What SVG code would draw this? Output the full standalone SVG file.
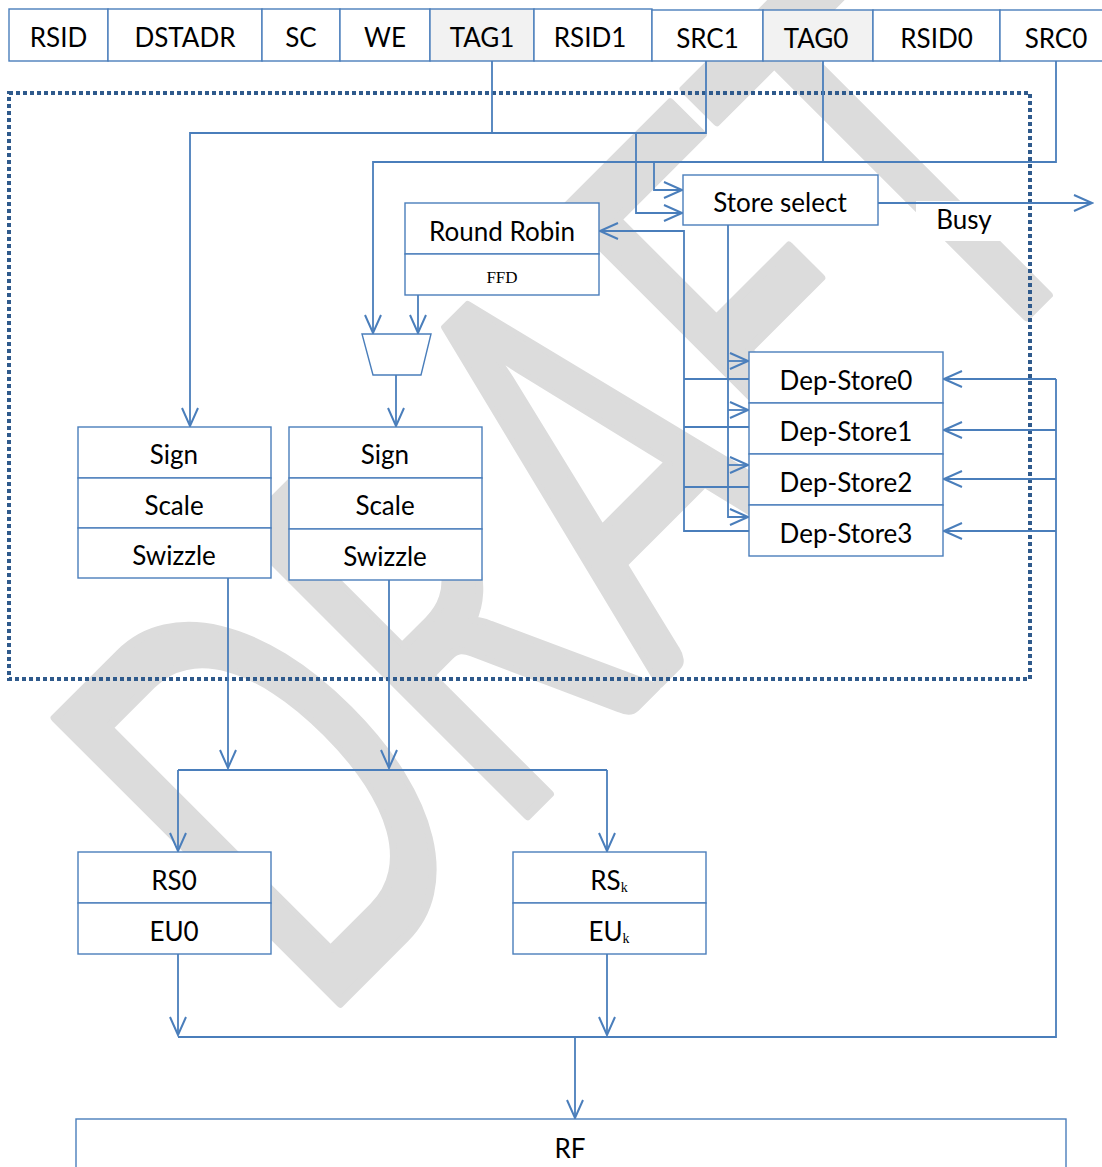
<svg xmlns="http://www.w3.org/2000/svg" width="1102" height="1167" viewBox="0 0 1102 1167">
<defs>
<style>
.box{fill:#fff;stroke:#4a7ebb;stroke-width:1.4}
.tag{fill:#f2f2f2;stroke:#4a7ebb;stroke-width:1.4}
.lbl{font-family:Lato,"Liberation Sans",sans-serif;font-size:26px;fill:#000;text-anchor:middle}
.ser{font-family:"Liberation Serif",serif;font-size:17px;fill:#000;text-anchor:middle}
.sub{font-family:"Liberation Serif",serif;font-size:14px}
.ln{fill:none;stroke:#4a7ebb;stroke-width:1.8}
.ar{marker-end:url(#ah)}
</style>
<marker id="ah" markerUnits="userSpaceOnUse" viewBox="-20 -10 22 20" markerWidth="22" markerHeight="20" refX="0" refY="0" orient="auto">
<path d="M-18,-8 L0,0 L-18,8" fill="none" stroke="#4a7ebb" stroke-width="2"/>
</marker>
</defs>
<rect width="1102" height="1167" fill="#fff"/>
<g id="watermark">
<text transform="translate(316.5,1026.5) rotate(-45) scale(0.62,1)" x="0" y="0" font-family="Lato,sans-serif" font-size="562" fill="#dcdcdc" stroke="#dcdcdc" stroke-width="9" stroke-linejoin="round">DRAFT</text>
</g>
<rect x="916" y="201" width="112" height="40" fill="#fff"/>
<rect id="boundary" x="9" y="93" width="1021" height="586" fill="none" stroke="#2f5a8c" stroke-width="4" stroke-dasharray="4 3"/>
<g id="connectors">
<path class="ln" d="M492,61 V133"/>
<path class="ln ar" d="M706,61 V133 H190 V426"/>
<path class="ln ar" d="M636,133 V213 H682"/>
<path class="ln" d="M823,61 V162"/>
<path class="ln ar" d="M1056,61 V162 H373 V333"/>
<path class="ln ar" d="M654,162 V190 H682"/>
<path class="ln ar" d="M878,203 H1092"/>
<path class="ln ar" d="M728,225 V517 H748"/>
<path class="ln ar" d="M728,361 H748"/>
<path class="ln ar" d="M728,410 H748"/>
<path class="ln ar" d="M728,465 H748"/>
<path class="ln ar" d="M749,531 H684 V231 H600"/>
<path class="ln" d="M684,379 H749 M684,427 H749 M684,487 H749"/>
<path class="ln ar" d="M418,295 V333"/>
<path class="ln ar" d="M396,375 V426"/>
<path class="ln ar" d="M228,578 V768"/>
<path class="ln ar" d="M389,580 V768"/>
<path class="ln" d="M178,770 H607"/>
<path class="ln ar" d="M178,770 V851"/>
<path class="ln ar" d="M607,770 V851"/>
<path class="ln ar" d="M178,954 V1035"/>
<path class="ln ar" d="M607,954 V1035"/>
<path class="ln" d="M178,1037 H1056 V379"/>
<path class="ln ar" d="M1056,379 H944"/>
<path class="ln ar" d="M1056,430 H944"/>
<path class="ln ar" d="M1056,479 H944"/>
<path class="ln ar" d="M1056,531 H944"/>
<path class="ln ar" d="M575,1037 V1118"/>
</g>
<g id="instr">
<rect class="box" x="9" y="9" width="99" height="52"/><text class="lbl" x="58.5" y="47">RSID</text>
<rect class="box" x="108" y="9" width="154" height="52"/><text class="lbl" x="185" y="47">DSTADR</text>
<rect class="box" x="262" y="9" width="78" height="52"/><text class="lbl" x="301" y="47">SC</text>
<rect class="box" x="340" y="9" width="90" height="52"/><text class="lbl" x="385" y="47">WE</text>
<rect class="tag" x="430" y="9" width="104" height="52"/><text class="lbl" x="482" y="47">TAG1</text>
<rect class="box" x="534" y="9" width="118" height="52"/><text class="lbl" x="590" y="47">RSID1</text>
<rect class="box" x="652" y="10" width="111" height="51"/><text class="lbl" x="707.5" y="48">SRC1</text>
<rect class="tag" x="763" y="10" width="110" height="51"/><text class="lbl" x="816" y="48">TAG0</text>
<rect class="box" x="873" y="10" width="127" height="51"/><text class="lbl" x="936.5" y="48">RSID0</text>
<rect class="box" x="1000" y="10" width="112" height="51"/><text class="lbl" x="1056" y="48">SRC0</text>
</g>
<g id="store-select">
<rect class="box" x="683" y="175" width="195" height="50"/><text class="lbl" x="780" y="212">Store select</text>
</g>
<g id="busy"><text class="lbl" x="964" y="229">Busy</text></g>
<g id="round-robin">
<rect class="box" x="405" y="203" width="194" height="51"/><text class="lbl" x="502" y="241">Round Robin</text>
<rect class="box" x="405" y="254" width="194" height="41"/><text class="ser" x="502" y="283">FFD</text>
</g>
<g id="mux"><polygon class="box" points="362,334 431,334 421,375 373,375"/></g>
<g id="dep-stores">
<rect class="box" x="749" y="352" width="194" height="51"/><text class="lbl" x="846" y="390">Dep-Store0</text>
<rect class="box" x="749" y="403" width="194" height="51"/><text class="lbl" x="846" y="441">Dep-Store1</text>
<rect class="box" x="749" y="454" width="194" height="51"/><text class="lbl" x="846" y="492">Dep-Store2</text>
<rect class="box" x="749" y="505" width="194" height="51"/><text class="lbl" x="846" y="543">Dep-Store3</text>
</g>
<g id="sss0">
<rect class="box" x="78" y="427" width="193" height="51"/><text class="lbl" x="174" y="464">Sign</text>
<rect class="box" x="78" y="478" width="193" height="50"/><text class="lbl" x="174" y="515">Scale</text>
<rect class="box" x="78" y="528" width="193" height="50"/><text class="lbl" x="174" y="565">Swizzle</text>
</g>
<g id="sss1">
<rect class="box" x="289" y="427" width="193" height="51"/><text class="lbl" x="385" y="464">Sign</text>
<rect class="box" x="289" y="478" width="193" height="51"/><text class="lbl" x="385" y="515">Scale</text>
<rect class="box" x="289" y="529" width="193" height="51"/><text class="lbl" x="385" y="566">Swizzle</text>
</g>
<g id="unit0">
<rect class="box" x="78" y="852" width="193" height="51"/><text class="lbl" x="174" y="890">RS0</text>
<rect class="box" x="78" y="903" width="193" height="51"/><text class="lbl" x="174" y="941">EU0</text>
</g>
<g id="unitk">
<rect class="box" x="513" y="852" width="193" height="51"/><text class="lbl" x="609" y="890">RS<tspan class="sub" dy="2">k</tspan></text>
<rect class="box" x="513" y="903" width="193" height="51"/><text class="lbl" x="609" y="941">EU<tspan class="sub" dy="2">k</tspan></text>
</g>
<g id="rf">
<rect class="box" x="76" y="1119" width="990" height="60"/><text class="lbl" x="570" y="1158">RF</text>
</g>
</svg>
